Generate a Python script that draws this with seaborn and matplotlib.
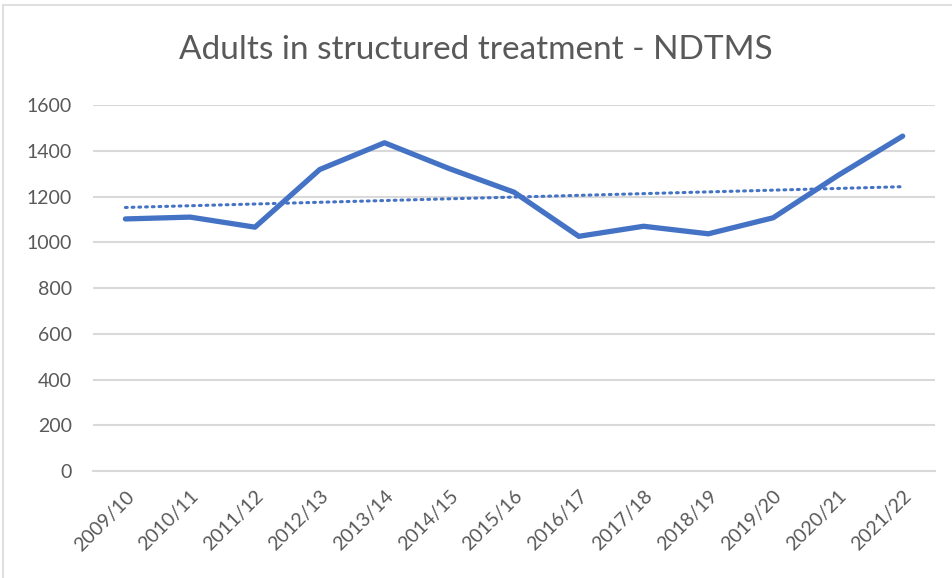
import numpy as np
import pandas as pd
import matplotlib.pyplot as plt
import seaborn as sns
from matplotlib.patches import Rectangle

# Values
years = ['2009/10', '2010/11', '2011/12', '2012/13', '2013/14', '2014/15', '2015/16',
         '2016/17', '2017/18', '2018/19', '2019/20', '2020/21', '2021/22']
adults = [1102, 1110, 1066, 1318, 1435, 1322, 1219, 1026, 1070, 1037, 1107, 1292, 1464]
y_ticks = [0, 200, 400, 600, 800, 1000, 1200, 1400, 1600]

df = pd.DataFrame({'pos': np.arange(len(years)), 'year': years, 'adults': adults})

sns.set_style('white')
plt.rcParams['font.family'] = ['Lato', 'DejaVu Sans']

blue = '#4472C4'
grey_text = '#595959'
grid_col = '#D9D9D9'

fig = plt.figure(figsize=(9.52, 5.78), dpi=100)
ax = fig.add_axes([0.0977, 0.1851, 0.8845, 0.6332])

# chart border
fig.patches.append(Rectangle((3 / 952, -0.01), 1.0, 1 - 5 / 578 + 0.01,
                             transform=fig.transFigure, fill=False,
                             edgecolor=grid_col, linewidth=1.2))

sns.lineplot(data=df, x='pos', y='adults', ax=ax, color=blue, linewidth=3.8,
             solid_capstyle='round', solid_joinstyle='round')
sns.regplot(data=df, x='pos', y='adults', ax=ax, scatter=False, ci=None,
            line_kws={'color': blue, 'linestyle': (0, (0.6, 1.6)), 'linewidth': 2.2,
                      'dash_capstyle': 'round'})

ax.set_xlim(-0.5, len(years) - 0.5)
ax.set_ylim(0, 1600)
ax.set_yticks(y_ticks)
ax.set_yticklabels([str(t) for t in y_ticks], fontsize=14, color=grey_text)
ax.set_xticks(df['pos'])
ax.set_xticklabels(years, rotation=45, ha='right', rotation_mode='anchor',
                   fontsize=14, color=grey_text)
ax.tick_params(axis='both', length=0)
ax.tick_params(axis='y', pad=15)
ax.tick_params(axis='x', pad=12)
ax.set_xlabel('')
ax.set_ylabel('')

ax.yaxis.grid(True, color=grid_col, linewidth=1.5)
ax.set_axisbelow(True)
for s in ['top', 'right', 'left']:
    ax.spines[s].set_visible(False)
ax.spines['bottom'].set_color(grid_col)
ax.spines['bottom'].set_linewidth(1.5)

fig.text(0.5, 1 - 50 / 578, 'Adults in structured treatment - NDTMS', ha='center',
         va='center', fontsize=24, color=grey_text)

fig.savefig('out.png', dpi=100)
